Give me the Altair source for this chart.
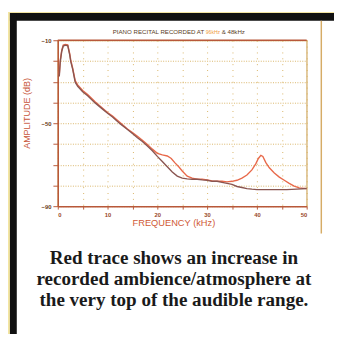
import altair as alt
import pandas as pd

# ---- data ----
red_freq = [0.3, 0.5, 0.8, 1.1, 1.5, 2.0, 2.4, 2.6, 3.0, 3.5, 4.0, 5.0, 6.0, 7.5, 9.0, 10.0,
            11.0, 12.5, 14.0, 15.0, 16.0, 17.0, 18.0, 19.0, 20.0, 21.0, 22.0, 22.8, 23.5,
            24.3, 25.0, 26.0, 27.0, 28.0, 29.0, 30.0, 31.0, 32.0, 33.0, 34.0, 35.0, 36.0,
            37.0, 38.0, 39.0, 39.8, 40.3, 40.8, 41.2, 41.8, 42.5, 43.5, 44.5, 45.5, 46.5,
            47.5, 48.5, 50.0]
red_amp = [-26.5, -19.5, -14.8, -12.3, -12.0, -12.2, -16.5, -19.5, -23.5, -29.5, -31.5,
           -34.2, -36.2, -39.7, -42.8, -44.8, -46.5, -49.7, -52.8, -54.5, -56.3, -58.2,
           -60.3, -62.5, -64.5, -65.3, -65.8, -67.0, -69.0, -71.0, -73.0, -75.5, -76.5,
           -77.0, -77.0, -77.3, -77.8, -78.0, -78.0, -78.3, -78.0, -77.5, -76.5, -75.0,
           -72.5, -69.5, -67.0, -65.5, -66.0, -69.0, -71.5, -74.0, -76.0, -77.5, -79.0,
           -80.3, -81.2, -81.5]

dark_freq = [0.3, 0.5, 0.8, 1.1, 1.5, 2.0, 2.4, 2.6, 3.0, 3.5, 4.0, 5.0, 6.0, 7.5, 9.0, 10.0,
             11.0, 12.5, 14.0, 15.0, 16.0, 17.0, 18.0, 19.0, 20.0, 21.0, 22.0, 23.0, 24.0,
             25.0, 26.0, 27.0, 28.0, 29.0, 30.0, 31.0, 32.0, 33.0, 34.0, 35.0, 36.0, 37.0,
             38.0, 39.0, 40.0, 42.0, 44.0, 46.0, 48.0, 50.0]
dark_amp = [-27.5, -20.5, -15.3, -12.8, -12.4, -12.6, -17.0, -20.2, -24.0, -30.2, -32.2,
            -34.8, -36.8, -40.2, -43.2, -45.2, -47.0, -50.2, -53.0, -55.0, -57.0, -58.8,
            -61.0, -63.3, -66.0, -68.5, -71.0, -73.5, -75.5, -76.5, -76.8, -77.0, -77.0,
            -77.3, -77.5, -78.0, -78.0, -78.5, -79.0, -79.5, -80.5, -81.0, -81.5, -81.8,
            -82.0, -82.0, -82.0, -82.0, -81.8, -81.5]

x_ticks = [0, 5, 10, 15, 20, 25, 30, 35, 40, 45, 50]
y_ticks = [-90, -80, -70, -60, -50, -40, -30, -20, -10]

title_parts = ["PIANO RECITAL RECORDED AT", "96kHz", "& 48kHz"]
x_title = "FREQUENCY (kHz)"
y_title = "AMPLITUDE (dB)"
caption_lines = ["Red trace shows an increase in",
                 "recorded ambience/atmosphere at",
                 "the very top of the audible range."]

# ---- tables ----
df = pd.concat([
    pd.DataFrame({"f": red_freq, "a": red_amp, "s": "96kHz"}),
    pd.DataFrame({"f": dark_freq, "a": dark_amp, "s": "48kHz"}),
])
one = pd.DataFrame({"k": [0]})

W, H = 255, 170
xs = alt.Scale(domain=[0, 50], nice=False, zero=False)
ys = alt.Scale(domain=[-90, -10], nice=False, zero=False)

RED = "#e8694a"
DARK = "#8a5550"
AXC = "#b8583a"
GRID = "#d9b466"

base = alt.Chart(one)

# frame pieces outside the plot area
black_top = base.mark_rect(color="#111111").encode(
    x=alt.value(-49), x2=alt.value(283), y=alt.value(-28), y2=alt.value(-20))
black_left = base.mark_rect(color="#111111").encode(
    x=alt.value(-49), x2=alt.value(-42), y=alt.value(-28), y2=alt.value(301))
yellow_left = base.mark_rect(color="#f3e5a2").encode(
    x=alt.value(-51), x2=alt.value(-49), y=alt.value(-29), y2=alt.value(301))
yellow_top = base.mark_rect(color="#f3e5a2").encode(
    x=alt.value(-51), x2=alt.value(283), y=alt.value(-29), y2=alt.value(-28))
side_rule = base.mark_rule(color="#d6ac66", strokeWidth=1.5).encode(
    x=alt.value(270), y=alt.value(-20), y2=alt.value(198))

lines = alt.Chart(df).mark_line(strokeWidth=1.4, interpolate="linear").encode(
    x=alt.X("f:Q", scale=xs, axis=alt.Axis(
        values=x_ticks, title=None, grid=True, gridDash=[1, 5], gridColor=GRID,
        gridOpacity=1, domainColor=AXC, domainWidth=1.5, tickColor=AXC, tickSize=3,
        labelExpr="datum.value % 10 == 0 ? datum.label : ''", labelFontSize=6,
        labelColor="#9a4a2a", labelPadding=3, labelFontWeight="bold")),
    y=alt.Y("a:Q", scale=ys, axis=alt.Axis(
        values=y_ticks, title=None, grid=True, gridDash=[1, 1.5], gridColor=GRID,
        gridOpacity=1, domainColor=AXC, domainWidth=1.5, tickColor=AXC, tickSize=5,
        labelExpr="(datum.value == -10 || datum.value == -50 || datum.value == -90) ? datum.label : ''",
        labelFontSize=6, labelColor="#6a3a20", labelPadding=2, labelFontWeight="bold")),
    color=alt.Color("s:N", scale=alt.Scale(domain=["96kHz", "48kHz"], range=[RED, DARK]),
                    legend=None),
    order=alt.Order("f:Q"),
)

top_rule = base.mark_rule(color=AXC, strokeWidth=1.5).encode(
    x=alt.value(0), x2=alt.value(W), y=alt.value(0))

t1 = alt.Chart(pd.DataFrame({"t": [title_parts[0]]})).mark_text(
    align="right", baseline="middle", fontSize=6.3, font="Liberation Sans",
    color="#5a4025").encode(text="t:N", x=alt.value(150), y=alt.value(-8))
t2 = alt.Chart(pd.DataFrame({"t": [title_parts[1]]})).mark_text(
    align="center", baseline="middle", fontSize=5.2, font="Liberation Sans",
    color="#f09a40").encode(text="t:N", x=alt.value(159), y=alt.value(-8))
t3 = alt.Chart(pd.DataFrame({"t": [title_parts[2]]})).mark_text(
    align="left", baseline="middle", fontSize=6.3, font="Liberation Sans",
    color="#5a4025").encode(text="t:N", x=alt.value(168), y=alt.value(-8))

xt = alt.Chart(pd.DataFrame({"t": [x_title]})).mark_text(
    align="center", baseline="middle", fontSize=9.5, font="Liberation Sans",
    color="#d05a36").encode(text="t:N", x=alt.value(119), y=alt.value(187))
yt = alt.Chart(pd.DataFrame({"t": [y_title]})).mark_text(
    align="center", baseline="middle", fontSize=9.2, font="Liberation Sans",
    color="#c8563a", angle=270).encode(text="t:N", x=alt.value(-31), y=alt.value(75))

cap = alt.Chart(pd.DataFrame({"t": caption_lines, "i": [0, 1, 2]})).mark_text(
    align="center", baseline="middle", fontSize=19.5, font="Liberation Serif",
    fontWeight="bold", color="#1a1a1a").encode(
    text="t:N", x=alt.value(119),
    y=alt.Y("i:Q", scale=alt.Scale(domain=[0, 2], range=[223, 266]), axis=None))

chart = alt.layer(
    yellow_left, yellow_top, black_top, black_left, side_rule,
    lines, top_rule, t1, t2, t3, xt, yt, cap
).resolve_scale(y="independent").properties(
    width=W, height=H,
    autosize=alt.AutoSizeParams(type="none"),
    padding={"left": 51, "top": 29, "right": 28, "bottom": 131},
    background="white",
).configure_view(stroke="#d0a860", strokeWidth=1.2)

chart.save("out.html", embed_options={"renderer": "svg", "actions": False})
